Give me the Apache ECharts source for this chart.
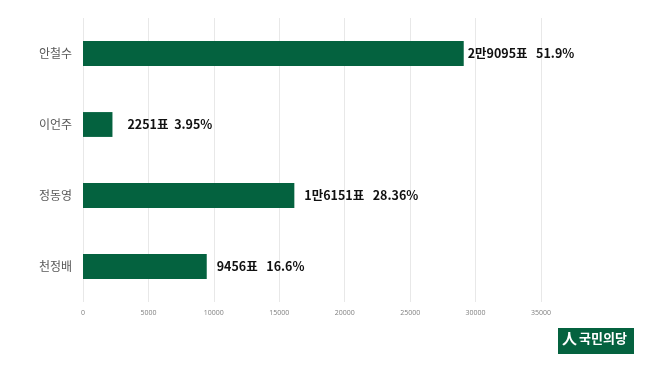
<!DOCTYPE html>
<html><head><meta charset="utf-8">
<script src="https://cdn.jsdelivr.net/npm/echarts@6/dist/echarts.min.js"></script>
<style>html,body{margin:0;padding:0;background:#fff}#c{width:650px;height:365px}</style>
</head><body><div id="c"></div>
<script>
const categories = ['안철수', '이언주', '정동영', '천정배'];
const votes = [29095, 2251, 16151, 9456];
const labelTexts = ['2만9095표   51.9%', '2251표  3.95%', '1만6151표   28.36%', '9456표   16.6%'];
const xTicks = [0, 5000, 10000, 15000, 20000, 25000, 30000, 35000];

const labelDist = [4, 15, 10, 10];
const chart = echarts.init(document.getElementById('c'), null, {renderer: 'canvas'});
chart.setOption({
  animation: false,
  backgroundColor: '#fff',
  grid: {left: 83, right: 109, top: 18, bottom: 63},
  xAxis: {
    type: 'value', min: xTicks[0], max: xTicks[xTicks.length - 1], interval: 5000,
    axisLine: {show: false}, axisTick: {show: false},
    splitLine: {lineStyle: {color: '#e8e8e8', width: 1}},
    axisLabel: {fontSize: 7, color: '#7f7f7f', fontFamily: 'Open Sans', margin: 7,
      formatter: v => String(v)}
  },
  yAxis: {
    type: 'category', data: categories, inverse: true,
    axisLine: {show: false}, axisTick: {show: false},
    axisLabel: {fontSize: 12, color: '#595959', fontFamily: 'Noto Sans CJK KR', margin: 11}
  },
  series: [{
    type: 'bar', barWidth: '35%',
    itemStyle: {color: '#04623F'},
    data: votes.map((v, i) => ({
      value: v,
      label: {show: true, position: 'right', distance: labelDist[i],
        formatter: labelTexts[i], fontSize: 12.5, fontWeight: 'bold', color: '#111',
        fontFamily: 'Noto Sans CJK KR'}
    }))
  }],
  graphic: [
    {type: 'rect', left: 558, top: 328, shape: {width: 76, height: 26}, style: {fill: '#04623F'}},
    {type: 'text', left: 562, top: 331, style: {text: '人', fill: '#fff', font: 'bold 15px "Noto Sans CJK KR"'}},
    {type: 'text', left: 579, top: 332, style: {text: '국민의당', fill: '#fff', font: 'bold 13px "Noto Sans CJK KR"'}}
  ]
});
</script></body></html>
